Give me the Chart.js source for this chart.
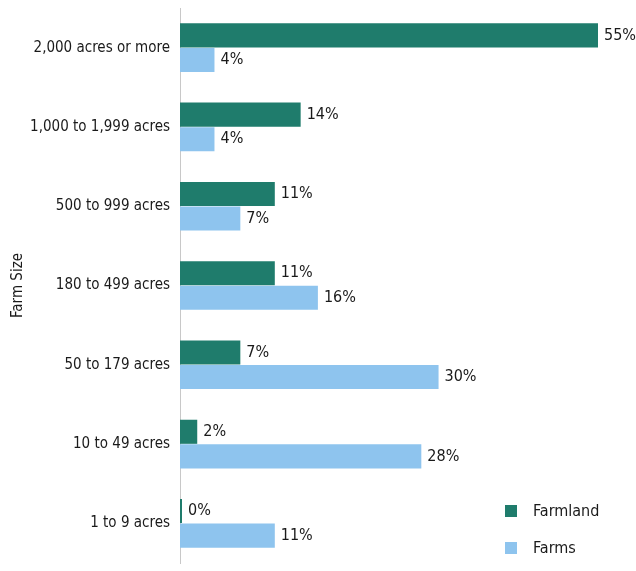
<!DOCTYPE html>
<html>
<head>
<meta charset="utf-8">
<script src="https://cdn.jsdelivr.net/npm/chart.js@4"></script>
<style>
  html, body { margin: 0; padding: 0; background: #fff; }
  #wrap { width: 636px; height: 571px; }
</style>
</head>
<body>
<div id="wrap"><canvas id="farmChart" width="636" height="571"></canvas></div>
<script>
// Farm size distribution: share of farmland vs share of farms
const categories = ['2,000 acres or more', '1,000 to 1,999 acres', '500 to 999 acres',
  '180 to 499 acres', '50 to 179 acres', '10 to 49 acres', '1 to 9 acres'];
const farmland = [55, 14, 11, 11, 7, 2, 0];
const farms = [4, 4, 7, 16, 30, 28, 11];
const seriesNames = ['Farmland', 'Farms'];
const seriesColors = ['#1f7c6c', '#8ec4ee'];

const FONT = '"Liberation Sans Narrow", "DejaVu Sans Condensed", sans-serif';

// value labels, placed after the (possibly clipped) bar end
const valueLabels = {
  id: 'valueLabels',
  afterDatasetsDraw(chart) {
    const { ctx, chartArea } = chart;
    ctx.save();
    ctx.font = '16px ' + FONT;
    ctx.fillStyle = '#1a1a1a';
    ctx.textBaseline = 'middle';
    ctx.textAlign = 'left';
    chart.data.datasets.forEach((ds, i) => {
      chart.getDatasetMeta(i).data.forEach((bar, j) => {
        const x = Math.min(bar.x, chartArea.right) + 6;
        ctx.fillText(ds.data[j] + '%', x, bar.y);
      });
    });
    ctx.restore();
  },
};

// legend sits in the lower right corner of the plot
const cornerLegend = {
  id: 'cornerLegend',
  afterDraw(chart) {
    const { ctx, chartArea } = chart;
    ctx.save();
    ctx.font = '16px ' + FONT;
    ctx.textBaseline = 'middle';
    chart.data.datasets.forEach((ds, i) => {
      const y = chartArea.bottom - 52 + i * 37;
      ctx.fillStyle = ds.backgroundColor;
      ctx.fillRect(chartArea.right - 93, y - 6, 12, 12);
      ctx.fillStyle = '#1a1a1a';
      ctx.fillText(ds.label, chartArea.right - 65, y + 1);
    });
    ctx.restore();
  },
};

new Chart(document.getElementById('farmChart'), {
  type: 'bar',
  data: {
    labels: categories,
    datasets: [
      { label: seriesNames[0], data: farmland, backgroundColor: seriesColors[0], minBarLength: 2 },
      { label: seriesNames[1], data: farms, backgroundColor: seriesColors[1] },
    ],
  },
  options: {
    indexAxis: 'y',
    responsive: false,
    animation: false,
    layout: { autoPadding: false, padding: { top: 8, bottom: 8, right: 38, left: 0 } },
    datasets: { bar: { barPercentage: 0.98, categoryPercentage: 0.62 } },
    plugins: {
      legend: { display: false },
      tooltip: { enabled: false },
    },
    scales: {
      x: { display: false, min: 0, max: 48.5 },
      y: {
        afterFit(scale) {
          scale.width = 180;
          scale.paddingTop = 0;
          scale.paddingBottom = 0;
        },
        grid: { display: false, drawTicks: false },
        border: { display: true, color: '#c8c8c8', width: 1 },
        ticks: { color: '#1a1a1a', padding: 10, font: { family: FONT, size: 15 } },
        title: {
          display: true,
          text: 'Farm Size',
          color: '#1a1a1a',
          padding: { top: 9, bottom: 0 },
          font: { family: FONT, size: 15 },
        },
      },
    },
  },
  plugins: [valueLabels, cornerLegend],
});
</script>
</body>
</html>
